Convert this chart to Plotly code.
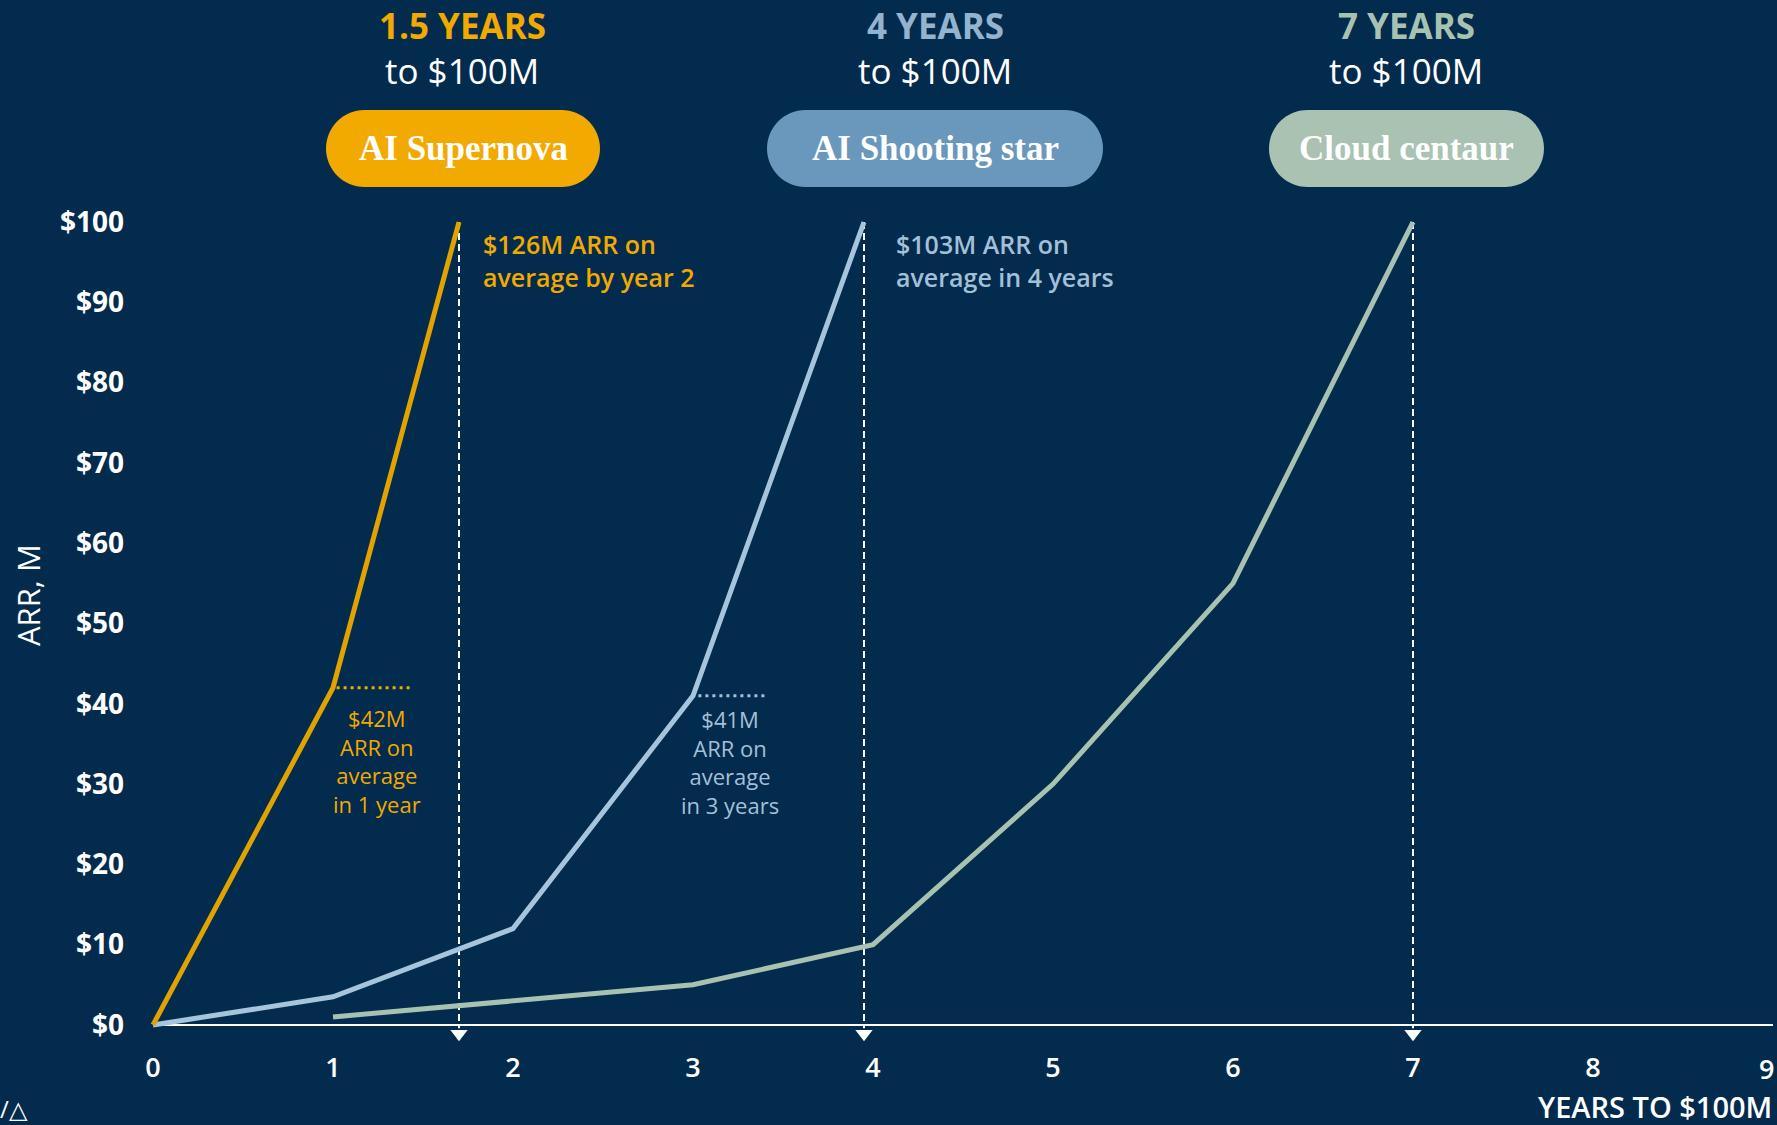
import plotly.graph_objects as go

# ---------------- data ----------------
supernova_years = [0, 1, 1.7]
supernova_arr = [0, 42, 100]

shooting_years = [0, 1, 2, 3, 3.95]
shooting_arr = [0, 3.5, 12, 41, 100]

centaur_years = [1, 2, 3, 4, 5, 6, 7]
centaur_arr = [1, 3, 5, 10, 30, 55, 100]

threshold_years = [1.7, 3.95, 7.0]
target_arr = 100

supernova_avg_y1 = 42
supernova_avg_span = [1.02, 1.43]
shooting_avg_y3 = 41
shooting_avg_span = [3.03, 3.40]

y_ticks = [0, 10, 20, 30, 40, 50, 60, 70, 80, 90, 100]
y_tick_labels = ["$" + str(v) for v in y_ticks]
x_ticks = list(range(9))
x_last_tick = 9

# ---------------- style ----------------
BG = "#032B4D"
ORANGE = "#F2A900"
ORANGE_LINE = "#E2A200"
BLUE_PILL = "#6A98BD"
BLUE_LINE = "#A6C4DC"
BLUE_TEXT = "#A3C0D9"
BLUE_HEAD = "#93B3CF"
GREEN_PILL = "#A9C2B2"
GREEN_LINE = "#A8C2B1"
WHITE = "#FFFFFF"
SANS = "'Open Sans', Lato, sans-serif"
SERIF = "'Liberation Serif', 'DejaVu Serif', serif"

W, H = 1777, 1125
L, R, T, B = 135, 1773, 206, 1041


def px(x):
    return (x - L) / (R - L)


def py(y):
    return (B - y) / (B - T)


def pill_path(x0, x1, y0, y1):
    r = (y1 - y0) / 2
    k = 0.5523 * r
    pts = [
        ("M", [(x0 + r, y0)]),
        ("L", [(x1 - r, y0)]),
        ("C", [(x1 - r + k, y0), (x1, y0 + r - k), (x1, y0 + r)]),
        ("C", [(x1, y0 + r + k), (x1 - r + k, y1), (x1 - r, y1)]),
        ("L", [(x0 + r, y1)]),
        ("C", [(x0 + r - k, y1), (x0, y1 - r + k), (x0, y1 - r)]),
        ("C", [(x0, y0 + r - k), (x0 + r - k, y0), (x0 + r, y0)]),
    ]
    s = ""
    for cmd, ps in pts:
        s += cmd + " " + " ".join(f"{px(a):.5f},{py(b):.5f}" for a, b in ps) + " "
    return s + "Z"


fig = go.Figure()

# dashed vertical markers
for xv in threshold_years:
    fig.add_trace(go.Scatter(
        x=[xv, xv], y=[target_arr, -0.4], mode="lines",
        line=dict(color=WHITE, width=2, dash="7px,4px"),
        hoverinfo="skip", showlegend=False))
fig.add_trace(go.Scatter(
    x=threshold_years, y=[-1.1] * len(threshold_years), mode="markers",
    marker=dict(symbol="triangle-down", size=15, color=WHITE, line=dict(width=0)),
    cliponaxis=False, hoverinfo="skip", showlegend=False))

# main lines
fig.add_trace(go.Scatter(x=centaur_years, y=centaur_arr, mode="lines",
                         line=dict(color=GREEN_LINE, width=5),
                         name="Cloud centaur", showlegend=False))
fig.add_trace(go.Scatter(x=shooting_years, y=shooting_arr, mode="lines",
                         line=dict(color=BLUE_LINE, width=5),
                         name="AI Shooting star", showlegend=False))
fig.add_trace(go.Scatter(x=supernova_years, y=supernova_arr, mode="lines",
                         line=dict(color=ORANGE_LINE, width=5),
                         name="AI Supernova", showlegend=False))

# dotted average markers
fig.add_trace(go.Scatter(x=supernova_avg_span, y=[supernova_avg_y1] * 2, mode="lines",
                         line=dict(color=ORANGE, width=3, dash="3px,4px"),
                         hoverinfo="skip", showlegend=False))
fig.add_trace(go.Scatter(x=shooting_avg_span, y=[shooting_avg_y3] * 2, mode="lines",
                         line=dict(color=BLUE_TEXT, width=3, dash="3px,4px"),
                         hoverinfo="skip", showlegend=False))

shapes = [
    # x-axis baseline
    dict(type="line", xref="x", yref="y", x0=0, x1=x_last_tick, y0=0, y1=0,
         line=dict(color=WHITE, width=2), layer="below"),
    dict(type="path", xref="paper", yref="paper", path=pill_path(326, 600, 110, 187),
         fillcolor=ORANGE, line=dict(width=0)),
    dict(type="path", xref="paper", yref="paper", path=pill_path(767, 1103, 110, 187),
         fillcolor=BLUE_PILL, line=dict(width=0)),
    dict(type="path", xref="paper", yref="paper", path=pill_path(1269, 1544, 110, 187),
         fillcolor=GREEN_PILL, line=dict(width=0)),
]

ann = []


def text(x, y, s, size, color, weight="normal", family=SANS, xanchor="center",
         yanchor="middle", align="center", textangle=0):
    ann.append(dict(xref="paper", yref="paper", x=px(x), y=py(y), text=s,
                    showarrow=False, xanchor=xanchor, yanchor=yanchor, align=align,
                    textangle=textangle,
                    font=dict(size=size, color=color, family=family, weight=weight)))


# headings
text(462, 25, "1.5 YEARS", 35, ORANGE, "bold")
text(462, 71, "to $100M", 35, WHITE)
text(935, 25, "4 YEARS", 35, BLUE_HEAD, "bold")
text(935, 71, "to $100M", 35, WHITE)
text(1406, 25, "7 YEARS", 35, GREEN_LINE, "bold")
text(1406, 71, "to $100M", 35, WHITE)

# pill labels
text(463, 149, "AI Supernova", 35, WHITE, "bold", SERIF)
text(935, 149, "AI Shooting star", 35, WHITE, "bold", SERIF)
text(1406, 149, "Cloud centaur", 35, WHITE, "bold", SERIF)

# annotations
text(481, 260, "$126M ARR on<br>average by year 2", 25, ORANGE, 600,
     xanchor="left", align="left")
text(894, 260, "$103M ARR on<br>average in 4 years", 25, BLUE_TEXT, 600,
     xanchor="left", align="left")
text(377, 761, "$42M<br>ARR on<br>average<br>in 1 year", 22, ORANGE)
text(730, 762, "$41M<br>ARR on<br>average<br>in 3 years", 22, BLUE_TEXT)

# axis titles
text(28, 595, "ARR, M", 31, WHITE, 500, textangle=-90)
text(1774, 1106, "YEARS TO $100M", 29, WHITE, 600, xanchor="right")

# last x tick label (sits at the right edge of the canvas)
text(1776, 1068, str(x_last_tick), 27, WHITE, 600, xanchor="right")

# logo fragment
text(-2, 1108, "/△", 24, WHITE, xanchor="left")

fig.update_layout(
    width=W, height=H,
    paper_bgcolor=BG, plot_bgcolor=BG,
    margin=dict(l=L, r=W - R, t=T, b=H - B, pad=0),
    shapes=shapes, annotations=ann,
    showlegend=False,
    xaxis=dict(range=[-0.1, 9.0], tickvals=x_ticks, ticktext=[str(v) for v in x_ticks],
               showgrid=False, zeroline=False, showline=False, ticks="",
               tickfont=dict(size=27, color=WHITE, family=SANS, weight=600),
               ticklabelstandoff=8, fixedrange=True),
    yaxis=dict(range=[-2, 102], tickvals=y_ticks, ticktext=y_tick_labels,
               showgrid=False, zeroline=False, showline=False, ticks="",
               tickfont=dict(size=28, color=WHITE, family=SANS, weight="bold"),
               ticklabelstandoff=10, fixedrange=True),
)

fig.write_html("out.html")
